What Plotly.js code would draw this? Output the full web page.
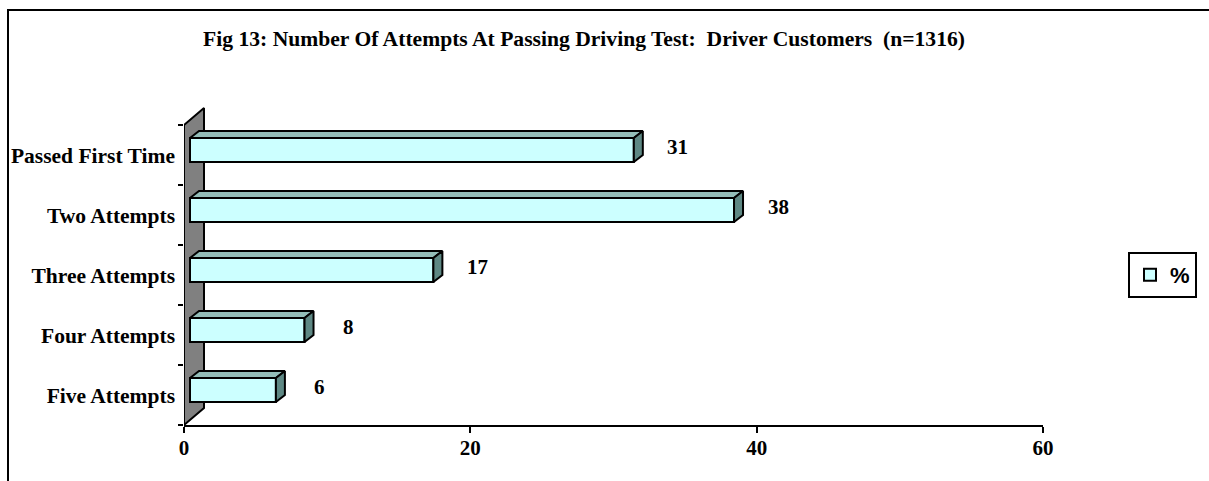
<!DOCTYPE html>
<html>
<head>
<meta charset="utf-8">
<script src="https://cdn.plot.ly/plotly-3.0.1.min.js"></script>
<style>html,body{margin:0;padding:0;background:#fff;}#chart{width:1209px;height:481px;}</style>
</head>
<body>
<div id="chart"></div>
<script>
// ---- data ----
const categories = ['Passed First Time', 'Two Attempts', 'Three Attempts', 'Four Attempts', 'Five Attempts'];
const values = [31, 38, 17, 8, 6];
const xTickValues = [0, 20, 40, 60];
const seriesName = '%';
const chartTitle = 'Fig 13: Number Of Attempts At Passing Driving Test:\u00a0 Driver Customers\u00a0 (n=1316)';

// ---- geometry (pixels -> axis units) ----
const W = 1209, H = 481;
const M = {l: 184, r: 166, t: 107, b: 56};
const plotW = W - M.l - M.r;           // 859
const plotH = H - M.t - M.b;           // 318
const X_MAX = 60;
const pxX = plotW / X_MAX;             // px per x unit
const pxY = 60;                        // px per category
const yRange = [categories.length - 0.5, -0.8];
const idx = categories.map((c, i) => i);

// wall depth and bar depth/offset
const wallDX = 20 / pxX, wallDY = 17 / pxY;
const barShiftX = 6 / pxX, barShiftY = 5 / pxY;
const barDX = 9 / pxX, barDY = 7 / pxY;
const halfW = 0.2;

const SERIF = 'Liberation Serif, Times New Roman, serif';
const fontBold = (size) => ({family: SERIF, size: size, color: '#000', weight: 'bold'});

// wall polygon
const nCat = categories.length;
const wall = {
  type: 'scatter', mode: 'lines', xaxis: 'x', yaxis: 'y',
  x: [0, 0, wallDX, wallDX, 0],
  y: [-0.5, nCat - 0.5, nCat - 0.5 - wallDY, -0.5 - wallDY, -0.5],
  fill: 'toself', fillcolor: '#808080',
  line: {color: '#000', width: 2}, hoverinfo: 'skip', showlegend: false
};

// front faces of bars
const bars = {
  type: 'bar', orientation: 'h', xaxis: 'x2', yaxis: 'y2',
  x: values, y: idx, width: 2 * halfW, name: seriesName,
  marker: {color: '#CCFFFF', line: {color: '#000', width: 2}},
  hoverinfo: 'x', showlegend: true
};

// top and right faces
const topX = [], topY = [], sideX = [], sideY = [];
values.forEach((v, i) => {
  const yt = i - halfW, yb = i + halfW;
  topX.push(0, v, v + barDX, barDX, 0, null);
  topY.push(yt, yt, yt - barDY, yt - barDY, yt, null);
  sideX.push(v, v + barDX, v + barDX, v, v, null);
  sideY.push(yt, yt - barDY, yb - barDY, yb, yt, null);
});
const topFaces = {
  type: 'scatter', mode: 'lines', xaxis: 'x2', yaxis: 'y2',
  x: topX, y: topY, fill: 'toself', fillcolor: '#93BDB8',
  line: {color: '#000', width: 2}, hoverinfo: 'skip', showlegend: false
};
const sideFaces = {
  type: 'scatter', mode: 'lines', xaxis: 'x2', yaxis: 'y2',
  x: sideX, y: sideY, fill: 'toself', fillcolor: '#5E8884',
  line: {color: '#000', width: 2}, hoverinfo: 'skip', showlegend: false
};
const tickHolder = {
  type: 'scatter', mode: 'markers', xaxis: 'x', yaxis: 'y3',
  x: [null], y: [null], hoverinfo: 'skip', showlegend: false
};

const annotations = values.map((v, i) => ({
  xref: 'x2', yref: 'y2', x: v, y: i, text: String(v),
  showarrow: false, xanchor: 'center', yanchor: 'middle',
  xshift: 44, yshift: 3, font: fontBold(21)
}));

const layout = {
  width: W, height: H,
  margin: M,
  paper_bgcolor: '#fff', plot_bgcolor: 'rgba(0,0,0,0)',
  showlegend: true,
  title: {
    text: chartTitle, font: fontBold(21.6),
    xref: 'container', yref: 'container',
    x: 584 / W, y: 1 - 38 / H, xanchor: 'center', yanchor: 'middle'
  },
  xaxis: {
    range: [0, X_MAX], tickvals: xTickValues, ticks: 'outside', ticklen: 6,
    tickwidth: 2, tickcolor: '#000', showline: true, linewidth: 2, linecolor: '#000',
    showgrid: false, zeroline: false, tickfont: fontBold(21), ticklabelstandoff: -3,
    fixedrange: true
  },
  yaxis: {
    range: yRange, tickvals: idx, ticktext: categories, ticks: '',
    showline: false, showgrid: false, zeroline: false,
    tickfont: fontBold(21.5), ticklabelstandoff: 8, fixedrange: true
  },
  yaxis3: {
    overlaying: 'y', anchor: 'x', side: 'left', range: yRange,
    tickvals: idx.map(i => i - 0.5).concat([nCat - 0.5]),
    ticktext: idx.map(() => '').concat(['']),
    ticks: 'outside', ticklen: 5, tickwidth: 2, tickcolor: '#000',
    showline: false, showgrid: false, zeroline: false, showticklabels: false
  },
  xaxis2: {
    overlaying: 'x', anchor: 'y2', range: [-barShiftX, X_MAX - barShiftX], visible: false
  },
  yaxis2: {
    overlaying: 'y', anchor: 'x2', range: [yRange[0] + barShiftY, yRange[1] + barShiftY], visible: false
  },
  legend: {
    x: (1128 - M.l) / plotW, y: (H - M.b - 252) / plotH,
    xanchor: 'left', yanchor: 'top',
    bgcolor: '#fff', bordercolor: '#000', borderwidth: 2,
    font: {family: 'Liberation Sans, Arial, sans-serif', size: 22, color: '#000', weight: 'bold'},
    itemwidth: 30, tracegroupgap: 0
  },
  shapes: [{
    type: 'rect', xref: 'paper', yref: 'paper', layer: 'below',
    x0: (8 - M.l) / plotW, x1: (W + 20 - M.l) / plotW,
    y0: (H - M.b - 10) / plotH, y1: -(M.b + 40) / plotH,
    line: {color: '#000', width: 2}, fillcolor: 'rgba(0,0,0,0)'
  }],
  annotations: annotations
};

Plotly.newPlot('chart', [wall, bars, topFaces, sideFaces, tickHolder], layout, {displayModeBar: false, staticPlot: true});
</script>
</body>
</html>
